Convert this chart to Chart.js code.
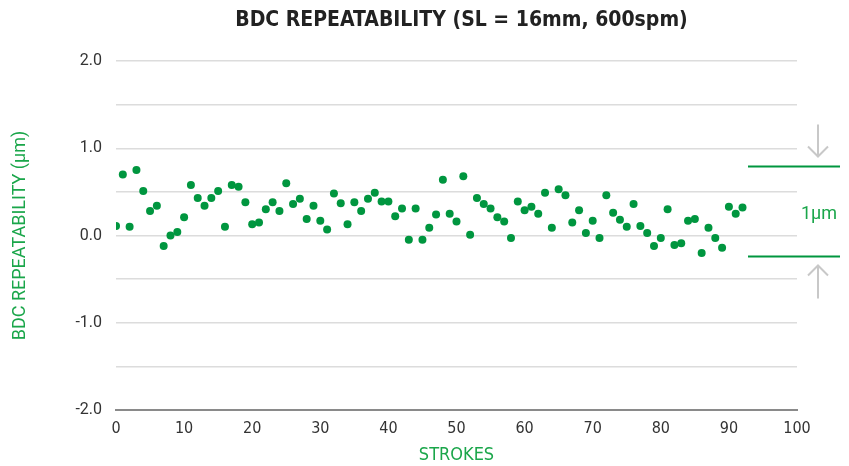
<!DOCTYPE html>
<html>
<head>
<meta charset="utf-8">
<script src="https://cdn.jsdelivr.net/npm/chart.js@4/dist/chart.umd.min.js"></script>
<style>
  html, body { margin: 0; padding: 0; background: #fff; }
  #wrap { width: 849px; height: 466px; }
</style>
</head>
<body>
<div id="wrap"><canvas id="myChart" width="849" height="466"></canvas></div>
<script>
// Data
const strokes = [0, 1, 2, 3, 4, 5, 6, 7, 8, 9, 10, 11, 12, 13, 14, 15, 16, 17, 18, 19,
  20, 21, 22, 23, 24, 25, 26, 27, 28, 29, 30, 31, 32, 33, 34, 35, 36, 37, 38, 39,
  40, 41, 42, 43, 44, 45, 46, 47, 48, 49, 50, 51, 52, 53, 54, 55, 56, 57, 58, 59,
  60, 61, 62, 63, 64, 65, 66, 67, 68, 69, 70, 71, 72, 73, 74, 75, 76, 77, 78, 79,
  80, 81, 82, 83, 84, 85, 86, 87, 88, 89, 90, 91, 92];
const repeatability = [0.11, 0.70, 0.10, 0.75, 0.51, 0.28, 0.34, -0.12, 0.00, 0.04,
  0.21, 0.58, 0.43, 0.34, 0.43, 0.51, 0.10, 0.58, 0.56, 0.38,
  0.13, 0.15, 0.30, 0.38, 0.28, 0.60, 0.36, 0.42, 0.19, 0.34,
  0.17, 0.07, 0.48, 0.37, 0.13, 0.38, 0.28, 0.42, 0.49, 0.39,
  0.39, 0.22, 0.31, -0.05, 0.31, -0.05, 0.09, 0.24, 0.64, 0.25,
  0.16, 0.68, 0.01, 0.43, 0.36, 0.31, 0.21, 0.16, -0.03, 0.39,
  0.29, 0.33, 0.25, 0.49, 0.09, 0.53, 0.46, 0.15, 0.29, 0.03,
  0.17, -0.03, 0.46, 0.26, 0.18, 0.10, 0.36, 0.11, 0.03, -0.12,
  -0.03, 0.30, -0.11, -0.09, 0.17, 0.19, -0.20, 0.09, -0.03, -0.14,
  0.33, 0.25, 0.32];
// band shown on the right
const bandLimits = [0.79, -0.24];
const bandLabel = '1μm';
const chartTitle = 'BDC REPEATABILITY (SL = 16mm, 600spm)';

const green = '#00963f';
const textGreen = '#1aa64a';
const condensed = "'DejaVu Sans Condensed', sans-serif";

// Title, centred a bit right of the plot, and the 1μm band on the right
const extrasPlugin = {
  id: 'extras',
  afterDraw(chart) {
    const { ctx, chartArea } = chart;
    const y = chart.scales.y;
    const right = chartArea.right;
    const yTop = y.getPixelForValue(bandLimits[0]);
    const yBot = y.getPixelForValue(bandLimits[1]);
    ctx.save();

    ctx.fillStyle = '#222';
    ctx.font = "bold 21px 'DejaVu Sans Condensed'";
    ctx.textAlign = 'center';
    ctx.textBaseline = 'middle';
    ctx.fillText(chartTitle, (chartArea.left + right) / 2 + 5, 21);

    ctx.strokeStyle = green;
    ctx.lineWidth = 2;
    ctx.beginPath();
    ctx.moveTo(right - 49, yTop); ctx.lineTo(right + 43, yTop);
    ctx.moveTo(right - 49, yBot); ctx.lineTo(right + 43, yBot);
    ctx.stroke();

    const ax = right + 21;
    ctx.strokeStyle = '#c8c8c8';
    ctx.lineWidth = 2;
    ctx.beginPath();
    // down arrow
    ctx.moveTo(ax, yTop - 42); ctx.lineTo(ax, yTop - 10);
    ctx.moveTo(ax - 10, yTop - 20); ctx.lineTo(ax, yTop - 10); ctx.lineTo(ax + 10, yTop - 20);
    // up arrow
    ctx.moveTo(ax, yBot + 42); ctx.lineTo(ax, yBot + 9);
    ctx.moveTo(ax - 10, yBot + 19); ctx.lineTo(ax, yBot + 9); ctx.lineTo(ax + 10, yBot + 19);
    ctx.stroke();

    ctx.fillStyle = textGreen;
    ctx.font = '18px Roboto';
    ctx.fillText(bandLabel, ax + 1, (yTop + yBot) / 2 + 3);
    ctx.restore();
  }
};

const config = {
  type: 'scatter',
  data: {
    datasets: [{
      data: strokes.map((s, i) => ({ x: s, y: repeatability[i] })),
      backgroundColor: green,
      borderColor: green,
      pointRadius: 4,
      pointHoverRadius: 4,
      borderWidth: 0
    }]
  },
  options: {
    responsive: false,
    animation: false,
    layout: { padding: { top: 61, right: 52, bottom: 0, left: 0 } },
    plugins: {
      legend: { display: false },
      tooltip: { enabled: false },
      title: { display: false }
    },
    scales: {
      x: {
        type: 'linear',
        min: 0,
        max: 100,
        afterFit(scale) { scale.height = 56; },
        ticks: {
          stepSize: 10,
          color: '#333',
          font: { family: condensed, size: 16 },
          padding: 9
        },
        grid: { display: false, drawTicks: false },
        border: { display: true, color: '#8a8a8a', width: 2 },
        title: {
          display: true,
          text: 'STROKES',
          color: textGreen,
          font: { family: condensed, size: 18, lineHeight: 1 },
          padding: { top: 0, bottom: 2 }
        }
      },
      y: {
        min: -2,
        max: 2,
        afterFit(scale) { scale.width = 116; },
        ticks: {
          stepSize: 0.5,
          color: '#333',
          font: { family: 'Roboto', size: 16 },
          padding: 14,
          callback: v => (Math.abs(v % 1) < 1e-9 ? v.toFixed(1) : '')
        },
        grid: { color: '#dcdcdc', lineWidth: 1.5, drawTicks: false },
        border: { display: false },
        title: {
          display: true,
          text: 'BDC REPEATABILITY (μm)',
          color: textGreen,
          font: { family: 'Roboto', size: 18 },
          padding: { top: 10, bottom: 0 }
        }
      }
    }
  },
  plugins: [extrasPlugin]
};

new Chart(document.getElementById('myChart'), config);
</script>
</body>
</html>
